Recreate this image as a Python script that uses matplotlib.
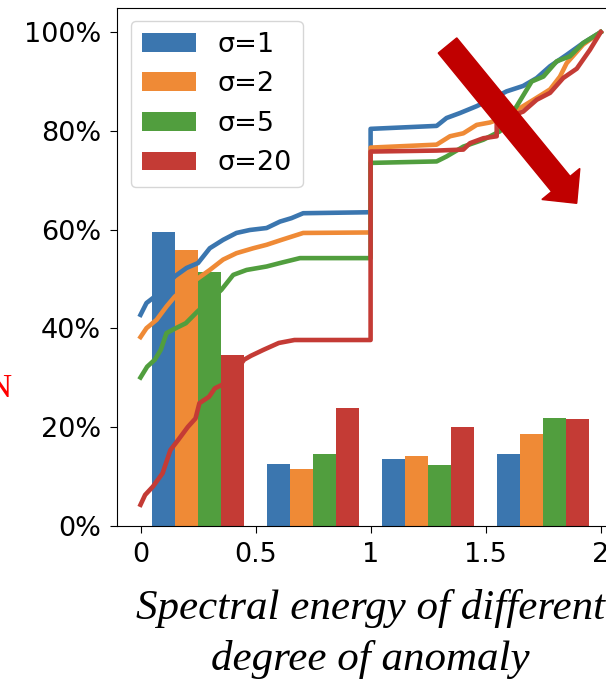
import numpy as np
import matplotlib
matplotlib.use("Agg")
import matplotlib.pyplot as plt
from matplotlib.patches import FancyArrow
from matplotlib.ticker import PercentFormatter

# === DATA ===
labels = ["σ=1", "σ=2", "σ=5", "σ=20"]
colors = ["#3b76af", "#ef8a36", "#519e3e", "#c43b35"]
group_centers = [0.25, 0.75, 1.25, 1.75]

# share of spectral energy per degree-of-anomaly bin
bars_s1 = [0.595, 0.124, 0.134, 0.144]
bars_s2 = [0.559, 0.114, 0.140, 0.186]
bars_s5 = [0.513, 0.145, 0.123, 0.217]
bars_s20 = [0.346, 0.238, 0.199, 0.215]

# cumulative curves
x_s1 = [0, 0.026, 0.062, 0.10, 0.149, 0.2, 0.25, 0.301, 0.359, 0.417, 0.475, 0.548, 0.606, 0.656, 0.707,
        1.0, 1.0, 1.287, 1.33, 1.388, 1.461, 1.519, 1.591, 1.663, 1.722, 1.78, 1.852, 1.924, 2.0]
y_s1 = [0.427, 0.451, 0.464, 0.48, 0.505, 0.522, 0.532, 0.562, 0.579, 0.593, 0.599, 0.603, 0.616, 0.623, 0.633,
        0.635, 0.804, 0.81, 0.826, 0.836, 0.85, 0.863, 0.88, 0.891, 0.907, 0.931, 0.954, 0.978, 1.0]

x_s2 = [0, 0.026, 0.07, 0.113, 0.149, 0.2, 0.25, 0.301, 0.359, 0.417, 0.49, 0.548, 0.613, 0.707,
        1.0, 1.0, 1.287, 1.345, 1.403, 1.461, 1.519, 1.591, 1.663, 1.722, 1.78, 1.823, 1.852, 1.924, 2.0]
y_s2 = [0.382, 0.40, 0.417, 0.444, 0.464, 0.484, 0.501, 0.518, 0.539, 0.552, 0.562, 0.569, 0.579, 0.593,
        0.594, 0.766, 0.772, 0.789, 0.795, 0.812, 0.817, 0.829, 0.85, 0.867, 0.884, 0.91, 0.937, 0.975, 1.0]

x_s5 = [0, 0.029, 0.062, 0.088, 0.113, 0.145, 0.197, 0.248, 0.30, 0.352, 0.403, 0.461, 0.548, 0.606, 0.693,
        1.0, 1.0, 1.287, 1.33, 1.403, 1.49, 1.562, 1.635, 1.7, 1.751, 1.809, 1.866, 1.924, 2.0]
y_s5 = [0.30, 0.322, 0.336, 0.356, 0.39, 0.398, 0.41, 0.434, 0.455, 0.478, 0.508, 0.518, 0.525, 0.532, 0.542,
        0.542, 0.735, 0.738, 0.748, 0.768, 0.782, 0.799, 0.85, 0.9, 0.91, 0.941, 0.951, 0.978, 1.0]

x_s20 = [0, 0.02, 0.054, 0.096, 0.13, 0.163, 0.206, 0.239, 0.256, 0.298, 0.323, 0.366, 0.41, 0.45, 0.48,
         0.534, 0.601, 0.669, 1.0, 1.0, 1.287, 1.403, 1.432, 1.49, 1.548, 1.548, 1.606, 1.663, 1.722,
         1.78, 1.837, 1.896, 1.953, 2.0]
y_s20 = [0.042, 0.062, 0.079, 0.106, 0.153, 0.173, 0.20, 0.217, 0.248, 0.261, 0.278, 0.288, 0.31, 0.336, 0.344,
         0.356, 0.37, 0.376, 0.376, 0.758, 0.76, 0.762, 0.775, 0.785, 0.789, 0.816, 0.829, 0.839, 0.863,
         0.877, 0.907, 0.926, 0.964, 1.0]

xtick_vals = [0, 0.5, 1, 1.5, 2]
xtick_labels = ["0", "0.5", "1", "1.5", "2"]
xlabel = "Spectral energy of different\ndegree of anomaly"

bars_all = [bars_s1, bars_s2, bars_s5, bars_s20]
curves = [(x_s1, y_s1), (x_s2, y_s2), (x_s5, y_s5), (x_s20, y_s20)]

# --- Plot ---
W, H = 606, 689
fig = plt.figure(figsize=(W / 100, H / 100), dpi=100)
ax = fig.add_axes([117.5 / W, (H - 525.5) / H, (623.7 - 117.5) / W, (525.5 - 7.5) / H])

bar_w = 0.1
offsets = [-0.15, -0.05, 0.05, 0.15]
for vals, off, col, lab in zip(bars_all, offsets, colors, labels):
    ax.bar(np.array(group_centers) + off, vals, width=bar_w, color=col, label=lab, zorder=2)

for (xs, ys), col in zip(curves, colors):
    ax.plot(xs, ys, color=col, lw=3.3, zorder=3)

ax.set_xlim(-0.1, 2.1)
ax.set_ylim(0, 1.05)
ax.set_xticks(xtick_vals)
ax.set_xticklabels(xtick_labels)
ax.set_yticks([0, 0.2, 0.4, 0.6, 0.8, 1.0])
ax.yaxis.set_major_formatter(PercentFormatter(1.0, decimals=0))
ax.tick_params(labelsize=19.5, length=5)
ax.tick_params(axis='y', pad=7)
ax.tick_params(axis='x', pad=7)

ax.legend(loc="upper left", fontsize=19.5)

ax.set_xlabel(xlabel, fontsize=31, family="Liberation Serif", style="italic", labelpad=15, linespacing=1.4)

# arrow drawn in display pixels
arr = FancyArrow(447.5, H - 45.5, 129.2, -157.8, width=24, head_width=49, head_length=25,
                 length_includes_head=True, color="#c00000", transform=None, zorder=5)
fig.patches.append(arr)

# cut-off red letter on the left edge
fig.text(12.5 / W, (H - 397) / H, "N", ha="right", va="baseline", color="red",
         family="Liberation Serif", fontsize=24)

fig.savefig("out.png", dpi=100)
